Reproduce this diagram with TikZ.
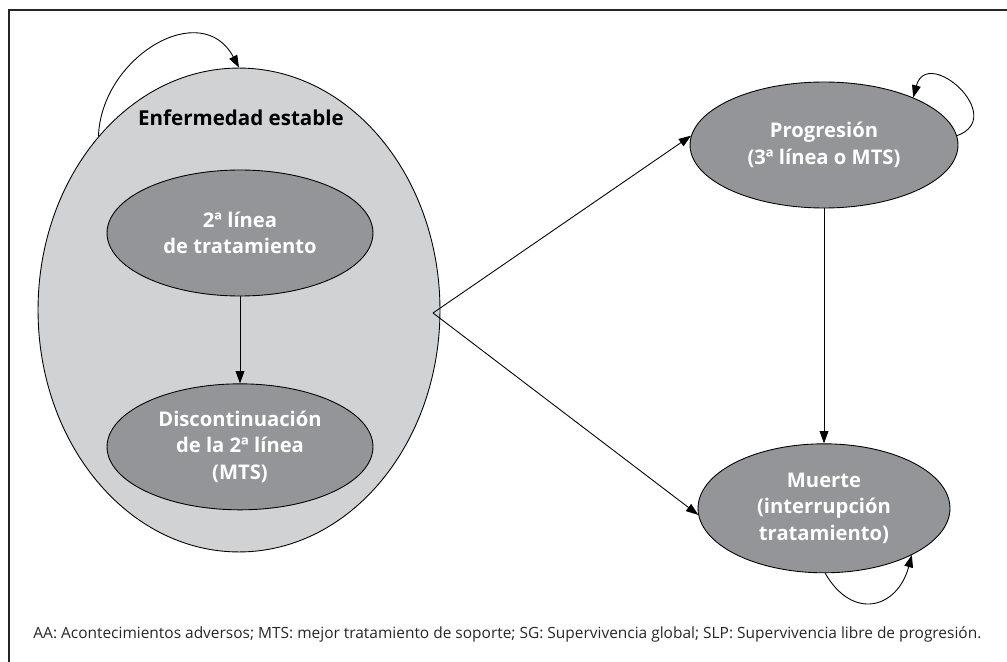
\documentclass[tikz,border=0pt]{standalone}
\usepackage{fontspec}
\setmainfont{Open Sans}
\usetikzlibrary{arrows.meta,positioning,shapes.geometric}
\definecolor{stablegray}{HTML}{D1D2D4}
\definecolor{stategray}{HTML}{939598}

\begin{document}
\begin{tikzpicture}[x=0.02cm,y=-0.02cm,->,>={Triangle[length=7pt,width=5pt]},
  line width=0.5pt,
  state/.style={ellipse,draw,fill=stategray,inner sep=0pt,align=center,
    text=white,font=\bfseries\fontsize{11.5}{15.2}\selectfont},
  group/.style={ellipse,draw,fill=stablegray,inner sep=0pt}]

  \useasboundingbox (0,0) rectangle (1007,662);

  % Frame
  \draw[-,line width=1.2pt,black!85] (8,10) -- (1007,10);
  \draw[-,line width=1.2pt,black!85] (9,10) -- (9,662);

  % States
  \node[group,minimum width=8.04cm,minimum height=9.68cm] (stable) at (239,310) {};
  \node[font=\bfseries\fontsize{11.7}{15}\selectfont] (stabletxt) at (241,118) {Enfermedad estable};
  \node[state,minimum width=5.32cm,minimum height=2.52cm] (second) at (240,233)
    {2ª línea\\de tratamiento};
  \node[state,minimum width=5.32cm,minimum height=2.52cm] (discont) [below=1.74cm of second]
    {Discontinuación\\de la 2ª línea\\(MTS)};
  \node[state,minimum width=5.36cm,minimum height=2.52cm] (prog) at (824,145)
    {Progresión\\(3ª línea o MTS)};
  \node[state,minimum width=5.04cm,minimum height=2.58cm] (death) [below=4.7cm of prog]
    {Muerte\\(interrupción\\tratamiento)};
  \coordinate (split) at (433,313);

  % Self-loops
  \path (stable.129) edge [out=88,in=118,looseness=1.3] (stable.90);
  \path (prog.4) edge [out=20,in=75,looseness=2.4] (prog.28);
  \path (death.-89) edge [out=-60,in=-105,looseness=1.6] (death.-28);

  % Transitions
  \path (second) edge (discont);
  \path (prog) edge (death);
  \draw (split) -- (prog.176);
  \draw (split) -- (death.183);

  % Footnote
  \node[font=\fontsize{8.8}{10}\selectfont,text=black!85,anchor=base west,inner sep=0pt] (note) at (33,638)
    {AA: Acontecimientos adversos; MTS: mejor tratamiento de soporte; SG: Supervivencia global; SLP: Supervivencia libre de progresión.};

\end{tikzpicture}
\end{document}
